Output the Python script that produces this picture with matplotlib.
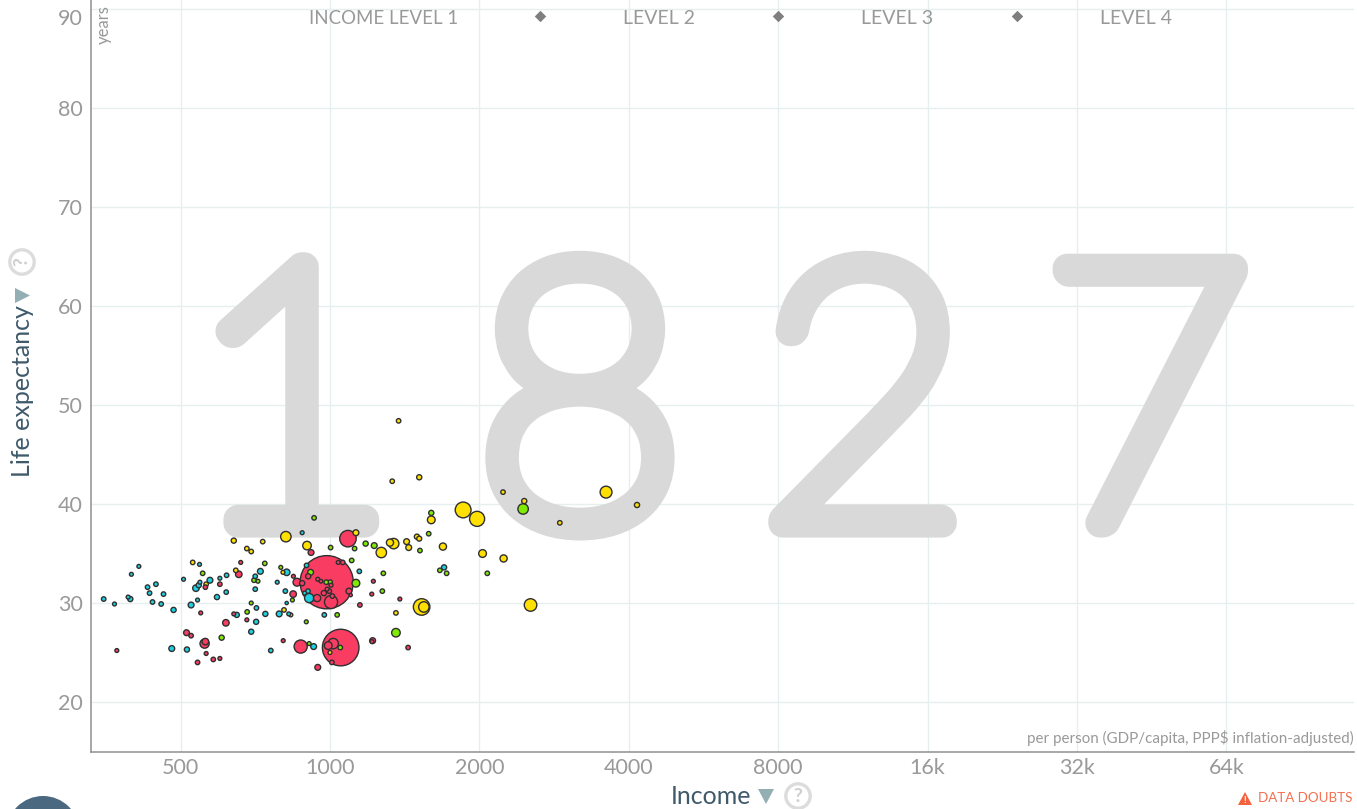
import numpy as np
import matplotlib
matplotlib.use('Agg')
import matplotlib.pyplot as plt
import matplotlib.patheffects as pe
from matplotlib.patches import Circle, Polygon

W, H = 1357, 809
plt.rcParams['font.family'] = ['Lato', 'DejaVu Sans']

# income, life expectancy, population (millions)
africa_income = [350, 368, 392, 396, 398, 412, 429, 446, 433, 439, 462, 457, 484, 507, 525, 541, 537, 544, 547, 573,
                 600, 619, 618, 592, 546, 724, 707, 707, 783, 813, 818, 897, 903, 908, 818, 711, 649, 741, 790, 826,
                 710, 694, 480, 515, 760, 927, 974, 1146, 1698, 879, 889]
africa_life = [30.4, 29.9, 30.6, 30.4, 32.9, 33.7, 31.6, 31.9, 31.0, 30.1, 30.9, 29.9, 29.3, 32.4, 29.8, 30.3, 31.5, 31.8, 32.1, 32.3,
               32.5, 32.8, 31.1, 30.6, 33.9, 33.2, 32.7, 31.4, 32.1, 31.2, 33.1, 33.8, 31.2, 30.5, 30.0, 29.5, 28.8, 28.9, 28.9, 28.9,
               28.1, 27.1, 25.4, 25.3, 25.2, 25.6, 28.8, 33.2, 33.6, 37.1, 31.0]
africa_pop = [1.5, 1, 1, 2.2, 1, 1, 1.5, 1.5, 1.5, 1.5, 1.5, 1.5, 2.2, 1, 3, 1, 4, 2.2, 1, 3,
              1, 1.5, 1.5, 2.2, 1, 3, 1.5, 1.5, 1, 1.5, 4, 1.5, 1.5, 9, 0.6, 1.5, 2.2, 2.2, 3, 1,
              2.2, 2.2, 3, 2.2, 1.5, 3, 1.5, 1.5, 2.2, 1, 1]

america_income = [554, 739, 796, 703, 716, 694, 681, 605, 896, 908, 840, 914, 983, 1001, 1128, 1358, 1180, 1228, 1106, 1600,
                  1665, 1049, 2450, 929, 1121, 1003, 1281, 1275, 1518, 1718, 1034, 1581, 2075]
america_life = [33.0, 34.0, 33.6, 32.3, 32.2, 30.0, 29.1, 26.5, 28.1, 25.9, 30.3, 33.1, 32.1, 32.1, 32.0, 27.0, 36.0, 35.8, 34.3, 39.1,
                33.3, 25.5, 39.5, 38.6, 35.5, 35.6, 33.0, 31.2, 35.3, 33.0, 28.8, 37.0, 33.0]
america_pop = [1.5, 1.5, 1, 1.5, 1, 1, 1.5, 2.2, 1, 1, 1, 3, 1.5, 1.5, 6, 7.6, 2.2, 3, 1.5, 2.2,
               1.5, 1.5, 12, 1.5, 1.5, 1.5, 1.5, 1.5, 1.5, 1.5, 1.5, 1.5, 1.5]

europe_income = [529, 563, 646, 694, 640, 680, 732, 815, 899, 804, 808, 834, 1128, 1855, 1979, 1600, 1269, 1344, 1321, 1427,
                 1441, 1497, 1513, 1689, 1530, 1546, 1358, 1375, 1513, 1335, 2030, 2238, 2232, 2463, 3600, 4156, 2905, 2536, 1000]
europe_life = [34.1, 31.9, 33.3, 35.2, 36.3, 35.5, 36.2, 36.7, 35.8, 33.1, 29.3, 28.8, 37.1, 39.4, 38.5, 38.4, 35.1, 36.0, 36.1, 36.2,
               35.6, 36.7, 36.5, 35.7, 29.6, 29.6, 29.0, 48.4, 42.7, 42.3, 35.0, 34.5, 41.2, 40.3, 41.2, 39.9, 38.1, 29.8, 25.0]
europe_pop = [1.5, 1.5, 1.5, 1.5, 2.2, 1.5, 1.5, 12, 7.6, 1, 1.5, 1, 3, 30, 27, 6, 12, 12, 5, 3,
              3, 2.2, 2, 5, 33, 12, 1.5, 1.5, 2.2, 1.5, 6, 5, 1.5, 2.2, 16, 2.2, 1.5, 18, 1]

asia_income = [655, 600, 561, 661, 549, 640, 680, 617, 514, 525, 559, 561, 563, 541, 582, 600, 372, 805, 873, 945,
               843, 858, 879, 844, 916, 985, 1051, 1087, 1005, 1092, 972, 997, 987, 1005, 945, 959, 904, 1039, 1061, 942,
               1011, 1101, 1015, 992, 1009, 1219, 1215, 1437, 1149, 1214, 1223, 1383]
asia_life = [32.9, 31.9, 31.6, 34.1, 29.0, 28.9, 28.3, 28.0, 27.0, 26.7, 25.9, 26.1, 24.9, 24.0, 24.3, 24.4, 25.2, 26.2, 25.6, 23.5,
             30.9, 32.1, 32.0, 32.7, 35.1, 32.1, 25.5, 36.5, 30.1, 31.2, 31.0, 31.2, 31.4, 31.8, 32.4, 32.2, 32.7, 34.1, 34.1, 30.5,
             30.7, 30.8, 25.9, 25.7, 24.0, 26.2, 26.1, 25.5, 29.8, 30.9, 32.2, 30.4]
asia_pop = [4, 1.5, 1.5, 1, 1, 1, 1, 4, 3, 1.5, 9, 4, 1, 1.5, 1.5, 1, 1, 1, 20, 3,
            4, 6.2, 2.2, 1, 3, 380, 176, 33, 20, 3, 2.2, 1.5, 1, 1, 1, 0.8, 2.2, 1, 1.5, 5,
            1.5, 0.6, 12, 6, 1.5, 3, 1, 1.5, 1.5, 1, 1, 1]

x_ticks = [500, 1000, 2000, 4000, 8000, 16000, 32000, 64000]
x_labels = ['500', '1000', '2000', '4000', '8000', '16k', '32k', '64k']
y_ticks = [20, 30, 40, 50, 60, 70, 80, 90]
level_cuts = [2650, 8000, 24200]
year_digits = ['1', '8', '2', '7']

GREY = '#999999'
GRID = '#e6efef'
DARK = '#3f5a6b'
TRI = '#93afb3'


def fx(px):
    return px / W


def fy(py):
    return 1 - py / H


fig = plt.figure(figsize=(W / 100, H / 100), dpi=100)
ax = fig.add_axes([fx(91), fy(752), fx(1354 - 91), 752 / H])
ax.set_xscale('log', base=2)
ax.set_xlim(330, 115700)
ax.set_ylim(14.95, 90.91)

ax.set_xticks(x_ticks)
ax.set_xticklabels(x_labels)
ax.set_yticks(y_ticks)
ax.minorticks_off()
ax.tick_params(axis='both', length=0, labelsize=15.5, labelcolor=GREY)
ax.tick_params(axis='x', pad=4)
ax.tick_params(axis='y', pad=6)
ax.get_yticklabels()[-1].set_va('top')  # top label is pushed down to stay on the page
ax.grid(True, color=GRID, lw=1.0, zorder=0)
ax.set_axisbelow(True)
for s in ['top', 'right']:
    ax.spines[s].set_visible(False)
for s in ['left', 'bottom']:
    ax.spines[s].set_color('#8f8f8f')
    ax.spines[s].set_linewidth(1.1)

# big year behind the bubbles, light weight thickened with a round stroke
for d, px in zip(year_digits, [292, 580, 864, 1147]):
    ax.text(fx(px), fy(523), d, transform=fig.transFigure, ha='center', va='baseline',
            fontsize=262, fontweight='light', color='#d9d9d9', zorder=1,
            path_effects=[pe.withStroke(linewidth=21, foreground='#d9d9d9', capstyle='round', joinstyle='round')])

# bubbles, largest first so small ones stay visible
income = np.array(africa_income + america_income + europe_income + asia_income, dtype=float)
life = np.array(africa_life + america_life + europe_life + asia_life)
pop = np.array(africa_pop + america_pop + europe_pop + asia_pop)
colors = (['#1fd0e0'] * len(africa_income) + ['#7feb00'] * len(america_income)
          + ['#ffe000'] * len(europe_income) + ['#f83c62'] * len(asia_income))
order = np.argsort(-pop)
r_pt = (26 * np.sqrt(pop / 380) + 0.6) * 0.72
ax.scatter(income[order], life[order], s=(2 * r_pt[order]) ** 2, c=[colors[i] for i in order],
           edgecolors='#2f2f2f', linewidths=1.0, zorder=3, clip_on=False)

# income levels
ax.scatter(level_cuts, [89.3] * 3, marker='D', s=34, color='#7f7f7f', zorder=2, linewidths=0)
for t, px, fs in zip(['INCOME LEVEL 1', 'LEVEL 2', 'LEVEL 3', 'LEVEL 4'], [383.5, 659, 897, 1135.5], [13.4, 14, 14, 14]):
    fig.text(fx(px), fy(18), t, ha='center', va='center', fontsize=fs, color=GREY)

fig.text(fx(104), fy(5), 'years', rotation=90, ha='center', va='top', fontsize=12, color=GREY)
fig.text(fx(1354), fy(738), 'per person (GDP/capita, PPP$ inflation-adjusted)', ha='right', va='center',
         fontsize=10.9, color=GREY)

# axis titles with their little icons
fig.text(fx(23), fy(391), 'Life expectancy', rotation=90, ha='center', va='center', fontsize=18, color=DARK)
fig.add_artist(Polygon([(fx(15), fy(288)), (fx(15), fy(303)), (fx(30), fy(295.5))], closed=True, color=TRI, lw=0))
fig.add_artist(Circle((22, H - 262), 12.2, transform=None, fill=False, ec='#dcdcdc', lw=2.4))
fig.text(fx(22), fy(262), '?', rotation=90, ha='center', va='center', fontsize=14, color='#cfcfcf', fontweight='bold')

fig.text(fx(711), fy(797), 'Income', ha='center', va='center', fontsize=18, color=DARK)
fig.add_artist(Polygon([(fx(758), fy(789)), (fx(774), fy(789)), (fx(766), fy(804))], closed=True, color=TRI, lw=0))
fig.add_artist(Circle((798, H - 796), 12.2, transform=None, fill=False, ec='#dcdcdc', lw=2.4))
fig.text(fx(798), fy(796), '?', ha='center', va='center', fontsize=14, color='#cfcfcf', fontweight='bold')

# warning link
fig.add_artist(Polygon([(fx(1238), fy(805)), (fx(1252), fy(805)), (fx(1245), fy(792))], closed=True, color='#f4613f', lw=0))
fig.text(fx(1245), fy(800.5), '!', ha='center', va='center', fontsize=7, color='white', fontweight='bold')
fig.text(fx(1353), fy(798.5), 'DATA DOUBTS', ha='right', va='center', fontsize=9.6, color='#f4704f')

# round menu button, cut by the lower edge
fig.add_artist(Circle((43, H - 832.6), 36.6, transform=None, color='#4a6880', lw=0))

fig.savefig('out.png', dpi=100)
